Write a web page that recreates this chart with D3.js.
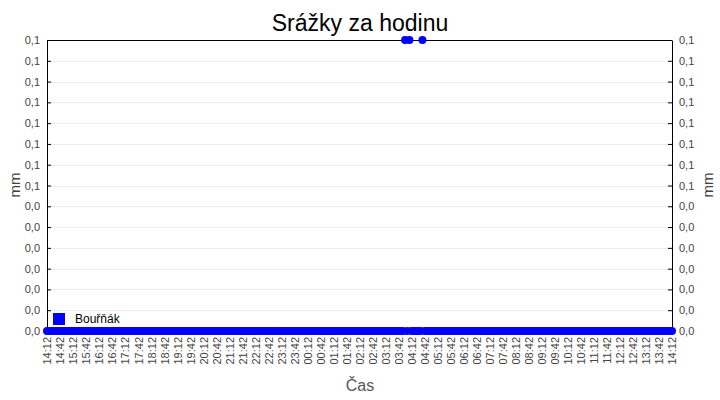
<!doctype html>
<html lang="cs">
<head>
  <meta charset="utf-8">
  <title>Srážky za hodinu</title>
  <script src="https://d3js.org/d3.v7.min.js"></script>
  <style>
    body { margin: 0; background: #fff; }
    text { font-family: "Liberation Sans", Arial, sans-serif; }
  </style>
</head>
<body>
  <div class="canva"></div>
  <script>
    // sampling: one reading every 5 minutes, from 14:12 to 14:12 next day
    const startTime = "2024-05-01 14:12";
    const stepMinutes = 5;

    // rain per hour [mm], one row per hour (12 readings)
    const rain = [
      0,0,0,0,0,0,0,0,0,0,0,0,        // 14:12
      0,0,0,0,0,0,0,0,0,0,0,0,        // 15:12
      0,0,0,0,0,0,0,0,0,0,0,0,        // 16:12
      0,0,0,0,0,0,0,0,0,0,0,0,        // 17:12
      0,0,0,0,0,0,0,0,0,0,0,0,        // 18:12
      0,0,0,0,0,0,0,0,0,0,0,0,        // 19:12
      0,0,0,0,0,0,0,0,0,0,0,0,        // 20:12
      0,0,0,0,0,0,0,0,0,0,0,0,        // 21:12
      0,0,0,0,0,0,0,0,0,0,0,0,        // 22:12
      0,0,0,0,0,0,0,0,0,0,0,0,        // 23:12
      0,0,0,0,0,0,0,0,0,0,0,0,        // 00:12
      0,0,0,0,0,0,0,0,0,0,0,0,        // 01:12
      0,0,0,0,0,0,0,0,0,0,0,0,        // 02:12
      0,0,0,0,0,0,0,0,0,0.1,0,0.1,    // 03:12 (03:57, 04:07)
      0,0,0,0,0,0.1,0,0,0,0,0,0,      // 04:12 (04:37)
      0,0,0,0,0,0,0,0,0,0,0,0,        // 05:12
      0,0,0,0,0,0,0,0,0,0,0,0,        // 06:12
      0,0,0,0,0,0,0,0,0,0,0,0,        // 07:12
      0,0,0,0,0,0,0,0,0,0,0,0,        // 08:12
      0,0,0,0,0,0,0,0,0,0,0,0,        // 09:12
      0,0,0,0,0,0,0,0,0,0,0,0,        // 10:12
      0,0,0,0,0,0,0,0,0,0,0,0,        // 11:12
      0,0,0,0,0,0,0,0,0,0,0,0,        // 12:12
      0,0,0,0,0,0,0,0,0,0,0,0,        // 13:12
      0                               // 14:12
    ];

    const xTickLabels = [
      "14:12","14:42","15:12","15:42","16:12","16:42","17:12","17:42",
      "18:12","18:42","19:12","19:42","20:12","20:42","21:12","21:42",
      "22:12","22:42","23:12","23:42","00:12","00:42","01:12","01:42",
      "02:12","02:42","03:12","03:42","04:12","04:42","05:12","05:42",
      "06:12","06:42","07:12","07:42","08:12","08:42","09:12","09:42",
      "10:12","10:42","11:12","11:42","12:12","12:42","13:12","13:42","14:12"
    ];
    const yMax = 0.1;
    // tick labels bottom to top (values rounded to one decimal)
    const yTickLabels = [
      "0,0","0,0","0,0","0,0","0,0","0,0","0,0",
      "0,1","0,1","0,1","0,1","0,1","0,1","0,1","0,1"
    ];
    const seriesName = "Bouřňák";

    const W = 720, H = 400;
    const pLeft = 47, pRight = 672, pTop = 40, pBottom = 331;

    const parse = d3.timeParse("%Y-%m-%d %H:%M");
    const t0 = parse(startTime);
    const data = rain.map((v, i) => ({ t: d3.timeMinute.offset(t0, i * stepMinutes), v: v }));
    const tickTimes = xTickLabels.map((s, i) => d3.timeMinute.offset(t0, i * 30));

    const x = d3.scaleTime()
      .domain([t0, d3.timeMinute.offset(t0, 24 * 60)])
      .range([pLeft, pRight]);
    const y = d3.scaleLinear().domain([0, yMax]).range([pBottom, pTop]);
    const yTicks = yTickLabels.map((s, i) => i * yMax / (yTickLabels.length - 1));
    const fmt = (d, i) => yTickLabels[i];

    const svg = d3.select(".canva").append("svg")
      .attr("width", W).attr("height", H);

    // grid
    svg.append("g").selectAll("line")
      .data(yTicks).enter().append("line")
      .attr("x1", pLeft).attr("x2", pRight)
      .attr("y1", d => Math.round(y(d)) + 0.5).attr("y2", d => Math.round(y(d)) + 0.5)
      .attr("stroke", "#ebebeb");

    // left / right axes
    const axL = svg.append("g").attr("transform", `translate(${pLeft},0)`)
      .call(d3.axisLeft(y).tickValues(yTicks).tickFormat(fmt).tickSizeInner(-4).tickSizeOuter(0).tickPadding(7));
    const axR = svg.append("g").attr("transform", `translate(${pRight},0)`)
      .call(d3.axisRight(y).tickValues(yTicks).tickFormat(fmt).tickSizeInner(-4).tickSizeOuter(0).tickPadding(7));
    [axL, axR].forEach(a => {
      a.selectAll("text").attr("fill", "#444").style("font-size", "11px");
      a.select(".domain").attr("stroke", "#000");
    });

    // top border
    svg.append("line").attr("x1", pLeft).attr("x2", pRight)
      .attr("y1", pTop + 0.5).attr("y2", pTop + 0.5).attr("stroke", "#000");

    // bottom axis
    const axB = svg.append("g").attr("transform", `translate(0,${pBottom})`)
      .call(d3.axisBottom(x).tickValues(tickTimes)
        .tickFormat((d, i) => xTickLabels[i]).tickSizeInner(-4).tickSizeOuter(0));
    axB.select(".domain").attr("stroke", "#000");
    axB.selectAll("text")
      .attr("fill", "#444").style("font-size", "11px")
      .attr("transform", "rotate(-90)")
      .attr("text-anchor", "end")
      .attr("x", -6).attr("y", 0).attr("dy", "0.35em");

    // points
    svg.append("g").selectAll("circle")
      .data(data).enter().append("circle")
      .attr("cx", d => x(d.t)).attr("cy", d => y(d.v))
      .attr("r", 4).attr("fill", "#0000ff");

    // title and axis names
    svg.append("text").attr("x", 360).attr("y", 31).attr("text-anchor", "middle")
      .style("font-size", "23px").attr("fill", "#000").text("Srážky za hodinu");
    svg.append("text").attr("transform", "translate(20,185) rotate(-90)")
      .attr("text-anchor", "middle").style("font-size", "15px").attr("fill", "#444").text("mm");
    svg.append("text").attr("transform", "translate(713,185) rotate(-90)")
      .attr("text-anchor", "middle").style("font-size", "15px").attr("fill", "#444").text("mm");
    svg.append("text").attr("x", 360).attr("y", 391).attr("text-anchor", "middle")
      .style("font-size", "16px").attr("fill", "#555").text("Čas");

    // legend
    svg.append("rect").attr("x", 53).attr("y", 313).attr("width", 12).attr("height", 12).attr("fill", "#0000ff");
    svg.append("text").attr("x", 75).attr("y", 323).style("font-size", "12px").attr("fill", "#000").text(seriesName);
  </script>
</body>
</html>
